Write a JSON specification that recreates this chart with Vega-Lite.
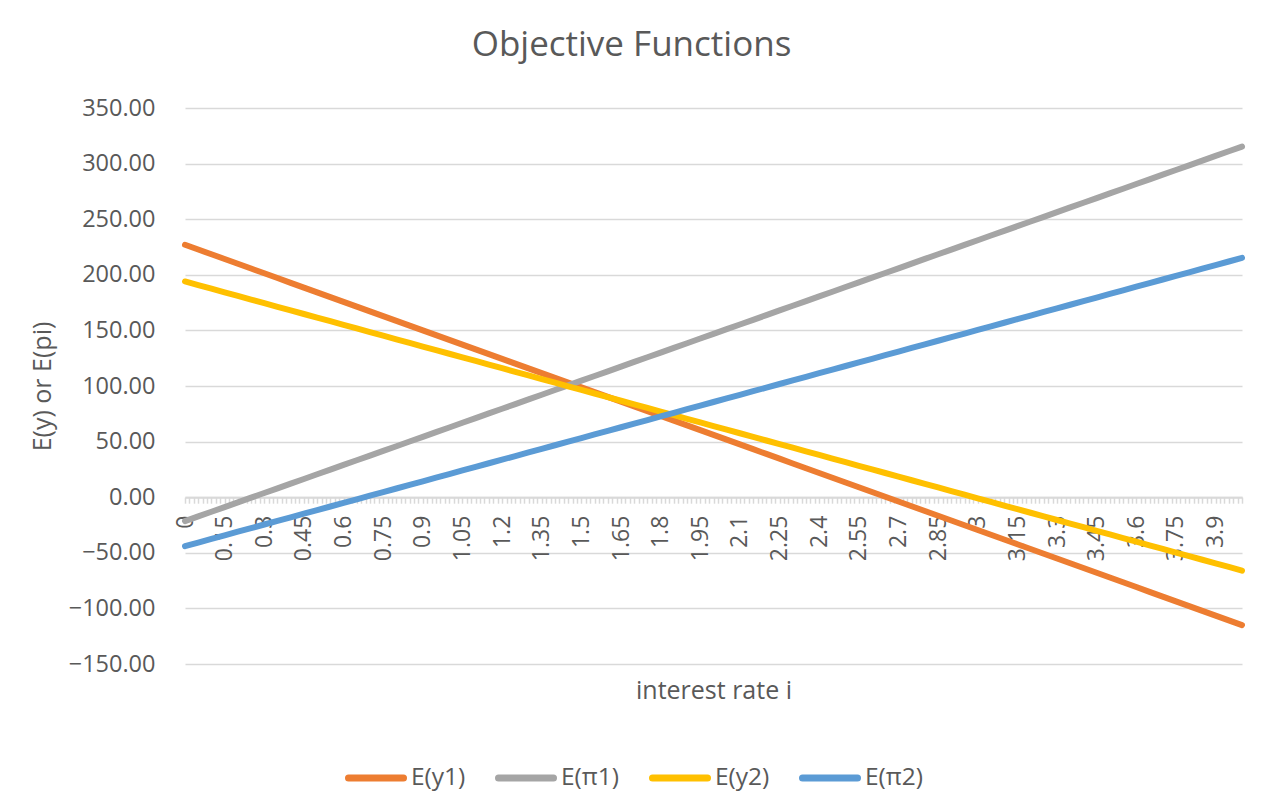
{
  "$schema": "https://vega.github.io/schema/vega-lite/v6.json",
  "width": 1057,
  "height": 556,
  "autosize": {"type": "none"},
  "padding": {"left": 185, "top": 108, "right": 35, "bottom": 131},
  "background": "white",
  "title": {"text": "Objective Functions", "fontSize": 35, "font": "Open Sans", "fontWeight": "normal", "color": "#595959", "anchor": "middle", "frame": "group", "dx": -82, "offset": 33},
  "data": {"values": [
    {"i": 0, "y1": 227, "pi1": -21.5, "y2": 194, "pi2": -44},
    {"i": 0.05, "y1": 222.73, "pi1": -17.29, "y2": 190.75, "pi2": -40.76},
    {"i": 0.1, "y1": 218.45, "pi1": -13.08, "y2": 187.5, "pi2": -37.52},
    {"i": 0.15, "y1": 214.18, "pi1": -8.87, "y2": 184.25, "pi2": -34.28},
    {"i": 0.2, "y1": 209.9, "pi1": -4.66, "y2": 181, "pi2": -31.04},
    {"i": 0.25, "y1": 205.63, "pi1": -0.45, "y2": 177.75, "pi2": -27.8},
    {"i": 0.3, "y1": 201.35, "pi1": 3.76, "y2": 174.5, "pi2": -24.56},
    {"i": 0.35, "y1": 197.08, "pi1": 7.97, "y2": 171.25, "pi2": -21.32},
    {"i": 0.4, "y1": 192.8, "pi1": 12.18, "y2": 168, "pi2": -18.08},
    {"i": 0.45, "y1": 188.53, "pi1": 16.39, "y2": 164.75, "pi2": -14.84},
    {"i": 0.5, "y1": 184.25, "pi1": 20.6, "y2": 161.5, "pi2": -11.6},
    {"i": 0.55, "y1": 179.98, "pi1": 24.81, "y2": 158.25, "pi2": -8.36},
    {"i": 0.6, "y1": 175.7, "pi1": 29.02, "y2": 155, "pi2": -5.12},
    {"i": 0.65, "y1": 171.43, "pi1": 33.23, "y2": 151.75, "pi2": -1.88},
    {"i": 0.7, "y1": 167.15, "pi1": 37.44, "y2": 148.5, "pi2": 1.36},
    {"i": 0.75, "y1": 162.88, "pi1": 41.65, "y2": 145.25, "pi2": 4.6},
    {"i": 0.8, "y1": 158.6, "pi1": 45.86, "y2": 142, "pi2": 7.84},
    {"i": 0.85, "y1": 154.33, "pi1": 50.07, "y2": 138.75, "pi2": 11.08},
    {"i": 0.9, "y1": 150.05, "pi1": 54.28, "y2": 135.5, "pi2": 14.32},
    {"i": 0.95, "y1": 145.78, "pi1": 58.49, "y2": 132.25, "pi2": 17.56},
    {"i": 1.0, "y1": 141.5, "pi1": 62.7, "y2": 129, "pi2": 20.8},
    {"i": 1.05, "y1": 137.23, "pi1": 66.91, "y2": 125.75, "pi2": 24.04},
    {"i": 1.1, "y1": 132.95, "pi1": 71.12, "y2": 122.5, "pi2": 27.28},
    {"i": 1.15, "y1": 128.68, "pi1": 75.33, "y2": 119.25, "pi2": 30.52},
    {"i": 1.2, "y1": 124.4, "pi1": 79.54, "y2": 116, "pi2": 33.76},
    {"i": 1.25, "y1": 120.13, "pi1": 83.75, "y2": 112.75, "pi2": 37},
    {"i": 1.3, "y1": 115.85, "pi1": 87.96, "y2": 109.5, "pi2": 40.24},
    {"i": 1.35, "y1": 111.58, "pi1": 92.17, "y2": 106.25, "pi2": 43.48},
    {"i": 1.4, "y1": 107.3, "pi1": 96.38, "y2": 103, "pi2": 46.72},
    {"i": 1.45, "y1": 103.03, "pi1": 100.59, "y2": 99.75, "pi2": 49.96},
    {"i": 1.5, "y1": 98.75, "pi1": 104.8, "y2": 96.5, "pi2": 53.2},
    {"i": 1.55, "y1": 94.48, "pi1": 109.01, "y2": 93.25, "pi2": 56.44},
    {"i": 1.6, "y1": 90.2, "pi1": 113.22, "y2": 90, "pi2": 59.68},
    {"i": 1.65, "y1": 85.93, "pi1": 117.43, "y2": 86.75, "pi2": 62.92},
    {"i": 1.7, "y1": 81.65, "pi1": 121.64, "y2": 83.5, "pi2": 66.16},
    {"i": 1.75, "y1": 77.38, "pi1": 125.85, "y2": 80.25, "pi2": 69.4},
    {"i": 1.8, "y1": 73.1, "pi1": 130.06, "y2": 77, "pi2": 72.64},
    {"i": 1.85, "y1": 68.83, "pi1": 134.27, "y2": 73.75, "pi2": 75.88},
    {"i": 1.9, "y1": 64.55, "pi1": 138.48, "y2": 70.5, "pi2": 79.12},
    {"i": 1.95, "y1": 60.28, "pi1": 142.69, "y2": 67.25, "pi2": 82.36},
    {"i": 2.0, "y1": 56, "pi1": 146.9, "y2": 64, "pi2": 85.6},
    {"i": 2.05, "y1": 51.73, "pi1": 151.11, "y2": 60.75, "pi2": 88.84},
    {"i": 2.1, "y1": 47.45, "pi1": 155.32, "y2": 57.5, "pi2": 92.08},
    {"i": 2.15, "y1": 43.18, "pi1": 159.53, "y2": 54.25, "pi2": 95.32},
    {"i": 2.2, "y1": 38.9, "pi1": 163.74, "y2": 51, "pi2": 98.56},
    {"i": 2.25, "y1": 34.63, "pi1": 167.95, "y2": 47.75, "pi2": 101.8},
    {"i": 2.3, "y1": 30.35, "pi1": 172.16, "y2": 44.5, "pi2": 105.04},
    {"i": 2.35, "y1": 26.08, "pi1": 176.37, "y2": 41.25, "pi2": 108.28},
    {"i": 2.4, "y1": 21.8, "pi1": 180.58, "y2": 38, "pi2": 111.52},
    {"i": 2.45, "y1": 17.53, "pi1": 184.79, "y2": 34.75, "pi2": 114.76},
    {"i": 2.5, "y1": 13.25, "pi1": 189, "y2": 31.5, "pi2": 118},
    {"i": 2.55, "y1": 8.98, "pi1": 193.21, "y2": 28.25, "pi2": 121.24},
    {"i": 2.6, "y1": 4.7, "pi1": 197.42, "y2": 25, "pi2": 124.48},
    {"i": 2.65, "y1": 0.43, "pi1": 201.63, "y2": 21.75, "pi2": 127.72},
    {"i": 2.7, "y1": -3.85, "pi1": 205.84, "y2": 18.5, "pi2": 130.96},
    {"i": 2.75, "y1": -8.13, "pi1": 210.05, "y2": 15.25, "pi2": 134.2},
    {"i": 2.8, "y1": -12.4, "pi1": 214.26, "y2": 12, "pi2": 137.44},
    {"i": 2.85, "y1": -16.68, "pi1": 218.47, "y2": 8.75, "pi2": 140.68},
    {"i": 2.9, "y1": -20.95, "pi1": 222.68, "y2": 5.5, "pi2": 143.92},
    {"i": 2.95, "y1": -25.23, "pi1": 226.89, "y2": 2.25, "pi2": 147.16},
    {"i": 3.0, "y1": -29.5, "pi1": 231.1, "y2": -1, "pi2": 150.4},
    {"i": 3.05, "y1": -33.78, "pi1": 235.31, "y2": -4.25, "pi2": 153.64},
    {"i": 3.1, "y1": -38.05, "pi1": 239.52, "y2": -7.5, "pi2": 156.88},
    {"i": 3.15, "y1": -42.33, "pi1": 243.73, "y2": -10.75, "pi2": 160.12},
    {"i": 3.2, "y1": -46.6, "pi1": 247.94, "y2": -14, "pi2": 163.36},
    {"i": 3.25, "y1": -50.88, "pi1": 252.15, "y2": -17.25, "pi2": 166.6},
    {"i": 3.3, "y1": -55.15, "pi1": 256.36, "y2": -20.5, "pi2": 169.84},
    {"i": 3.35, "y1": -59.43, "pi1": 260.57, "y2": -23.75, "pi2": 173.08},
    {"i": 3.4, "y1": -63.7, "pi1": 264.78, "y2": -27, "pi2": 176.32},
    {"i": 3.45, "y1": -67.98, "pi1": 268.99, "y2": -30.25, "pi2": 179.56},
    {"i": 3.5, "y1": -72.25, "pi1": 273.2, "y2": -33.5, "pi2": 182.8},
    {"i": 3.55, "y1": -76.53, "pi1": 277.41, "y2": -36.75, "pi2": 186.04},
    {"i": 3.6, "y1": -80.8, "pi1": 281.62, "y2": -40, "pi2": 189.28},
    {"i": 3.65, "y1": -85.08, "pi1": 285.83, "y2": -43.25, "pi2": 192.52},
    {"i": 3.7, "y1": -89.35, "pi1": 290.04, "y2": -46.5, "pi2": 195.76},
    {"i": 3.75, "y1": -93.63, "pi1": 294.25, "y2": -49.75, "pi2": 199},
    {"i": 3.8, "y1": -97.9, "pi1": 298.46, "y2": -53, "pi2": 202.24},
    {"i": 3.85, "y1": -102.18, "pi1": 302.67, "y2": -56.25, "pi2": 205.48},
    {"i": 3.9, "y1": -106.45, "pi1": 306.88, "y2": -59.5, "pi2": 208.72},
    {"i": 3.95, "y1": -110.73, "pi1": 311.09, "y2": -62.75, "pi2": 211.96},
    {"i": 4.0, "y1": -115, "pi1": 315.3, "y2": -66, "pi2": 215.2}
  ]},
  "transform": [{"fold": ["y1", "pi1", "y2", "pi2"], "as": ["series", "value"]}],
  "mark": {"type": "line", "strokeWidth": 6, "strokeCap": "round", "strokeJoin": "round"},
  "encoding": {
    "x": {
      "field": "i", "type": "quantitative",
      "scale": {"domain": [0, 4], "nice": false, "zero": false},
      "axis": {
        "title": "interest rate i",
        "values": [0,0.0167,0.0333,0.05,0.0667,0.0833,0.1,0.1167,0.1333,0.15,0.1667,0.1833,0.2,0.2167,0.2333,0.25,0.2667,0.2833,0.3,0.3167,0.3333,0.35,0.3667,0.3833,0.4,0.4167,0.4333,0.45,0.4667,0.4833,0.5,0.5167,0.5333,0.55,0.5667,0.5833,0.6,0.6167,0.6333,0.65,0.6667,0.6833,0.7,0.7167,0.7333,0.75,0.7667,0.7833,0.8,0.8167,0.8333,0.85,0.8667,0.8833,0.9,0.9167,0.9333,0.95,0.9667,0.9833,
          1,1.0167,1.0333,1.05,1.0667,1.0833,1.1,1.1167,1.1333,1.15,1.1667,1.1833,1.2,1.2167,1.2333,1.25,1.2667,1.2833,1.3,1.3167,1.3333,1.35,1.3667,1.3833,1.4,1.4167,1.4333,1.45,1.4667,1.4833,1.5,1.5167,1.5333,1.55,1.5667,1.5833,1.6,1.6167,1.6333,1.65,1.6667,1.6833,1.7,1.7167,1.7333,1.75,1.7667,1.7833,1.8,1.8167,1.8333,1.85,1.8667,1.8833,1.9,1.9167,1.9333,1.95,1.9667,1.9833,
          2,2.0167,2.0333,2.05,2.0667,2.0833,2.1,2.1167,2.1333,2.15,2.1667,2.1833,2.2,2.2167,2.2333,2.25,2.2667,2.2833,2.3,2.3167,2.3333,2.35,2.3667,2.3833,2.4,2.4167,2.4333,2.45,2.4667,2.4833,2.5,2.5167,2.5333,2.55,2.5667,2.5833,2.6,2.6167,2.6333,2.65,2.6667,2.6833,2.7,2.7167,2.7333,2.75,2.7667,2.7833,2.8,2.8167,2.8333,2.85,2.8667,2.8833,2.9,2.9167,2.9333,2.95,2.9667,2.9833,
          3,3.0167,3.0333,3.05,3.0667,3.0833,3.1,3.1167,3.1333,3.15,3.1667,3.1833,3.2,3.2167,3.2333,3.25,3.2667,3.2833,3.3,3.3167,3.3333,3.35,3.3667,3.3833,3.4,3.4167,3.4333,3.45,3.4667,3.4833,3.5,3.5167,3.5333,3.55,3.5667,3.5833,3.6,3.6167,3.6333,3.65,3.6667,3.6833,3.7,3.7167,3.7333,3.75,3.7667,3.7833,3.8,3.8167,3.8333,3.85,3.8667,3.8833,3.9,3.9167,3.9333,3.95,3.9667,3.9833,4],
        "labelExpr": "abs(datum.value / 0.15 - round(datum.value / 0.15)) < 0.02 && datum.value < 3.95 ? format(datum.value, '.2~f') : ''",
        "labelAngle": -90,
        "labelAlign": "right",
        "labelBaseline": "middle",
        "labelOverlap": false,
        "labelBound": false,
        "labelFlush": false,
        "labelFont": "Open Sans",
        "labelFontSize": 23,
        "labelColor": "#595959",
        "labelPadding": 12,
        "ticks": true,
        "tickSize": 6,
        "tickColor": "#D9D9D9",
        "tickWidth": 1.5,
        "domainColor": "#D9D9D9",
        "domainWidth": 2,
        "grid": false,
        "offset": -166.8,
        "titleY": 193,
        "titleBaseline": "middle",
        "titleFont": "Open Sans",
        "titleFontSize": 25,
        "titleFontWeight": "normal",
        "titleColor": "#595959"
      }
    },
    "y": {
      "field": "value", "type": "quantitative",
      "scale": {"domain": [-150, 350], "nice": false, "zero": false},
      "axis": {
        "title": "E(y) or E(pi)",
        "values": [-150, -100, -50, 0, 50, 100, 150, 200, 250, 300, 350],
        "format": ".2f",
        "domain": false,
        "ticks": false,
        "grid": true,
        "gridColor": "#D9D9D9",
        "gridWidth": 1.5,
        "labelFont": "Open Sans",
        "labelFontSize": 23.5,
        "labelColor": "#595959",
        "labelPadding": 30,
        "titleX": -143,
        "titleBaseline": "middle",
        "titleFont": "Open Sans",
        "titleFontSize": 25,
        "titleFontWeight": "normal",
        "titleColor": "#595959"
      }
    },
    "color": {
      "field": "series", "type": "nominal",
      "scale": {"domain": ["y1", "pi1", "y2", "pi2"], "range": ["#ED7D31", "#A5A5A5", "#FFC000", "#5B9BD5"]},
      "legend": {
        "title": null,
        "orient": "none",
        "legendX": 160,
        "legendY": 639,
        "direction": "horizontal",
        "symbolType": "stroke",
        "symbolSize": 3025,
        "symbolStrokeWidth": 7,
        "labelFont": "Open Sans",
        "labelFontSize": 24.5,
        "labelColor": "#595959",
        "labelOffset": 4,
        "labelLimit": 200,
        "columnPadding": 18,
        "labelExpr": "datum.label == 'y1' ? 'E(y1)' : datum.label == 'pi1' ? 'E(π1)' : datum.label == 'y2' ? 'E(y2)' : 'E(π2)'",
        "encode": {"symbols": {"update": {"strokeCap": {"value": "round"}}}}
      }
    }
  },
  "config": {"view": {"stroke": null}, "font": "Open Sans"}
}
